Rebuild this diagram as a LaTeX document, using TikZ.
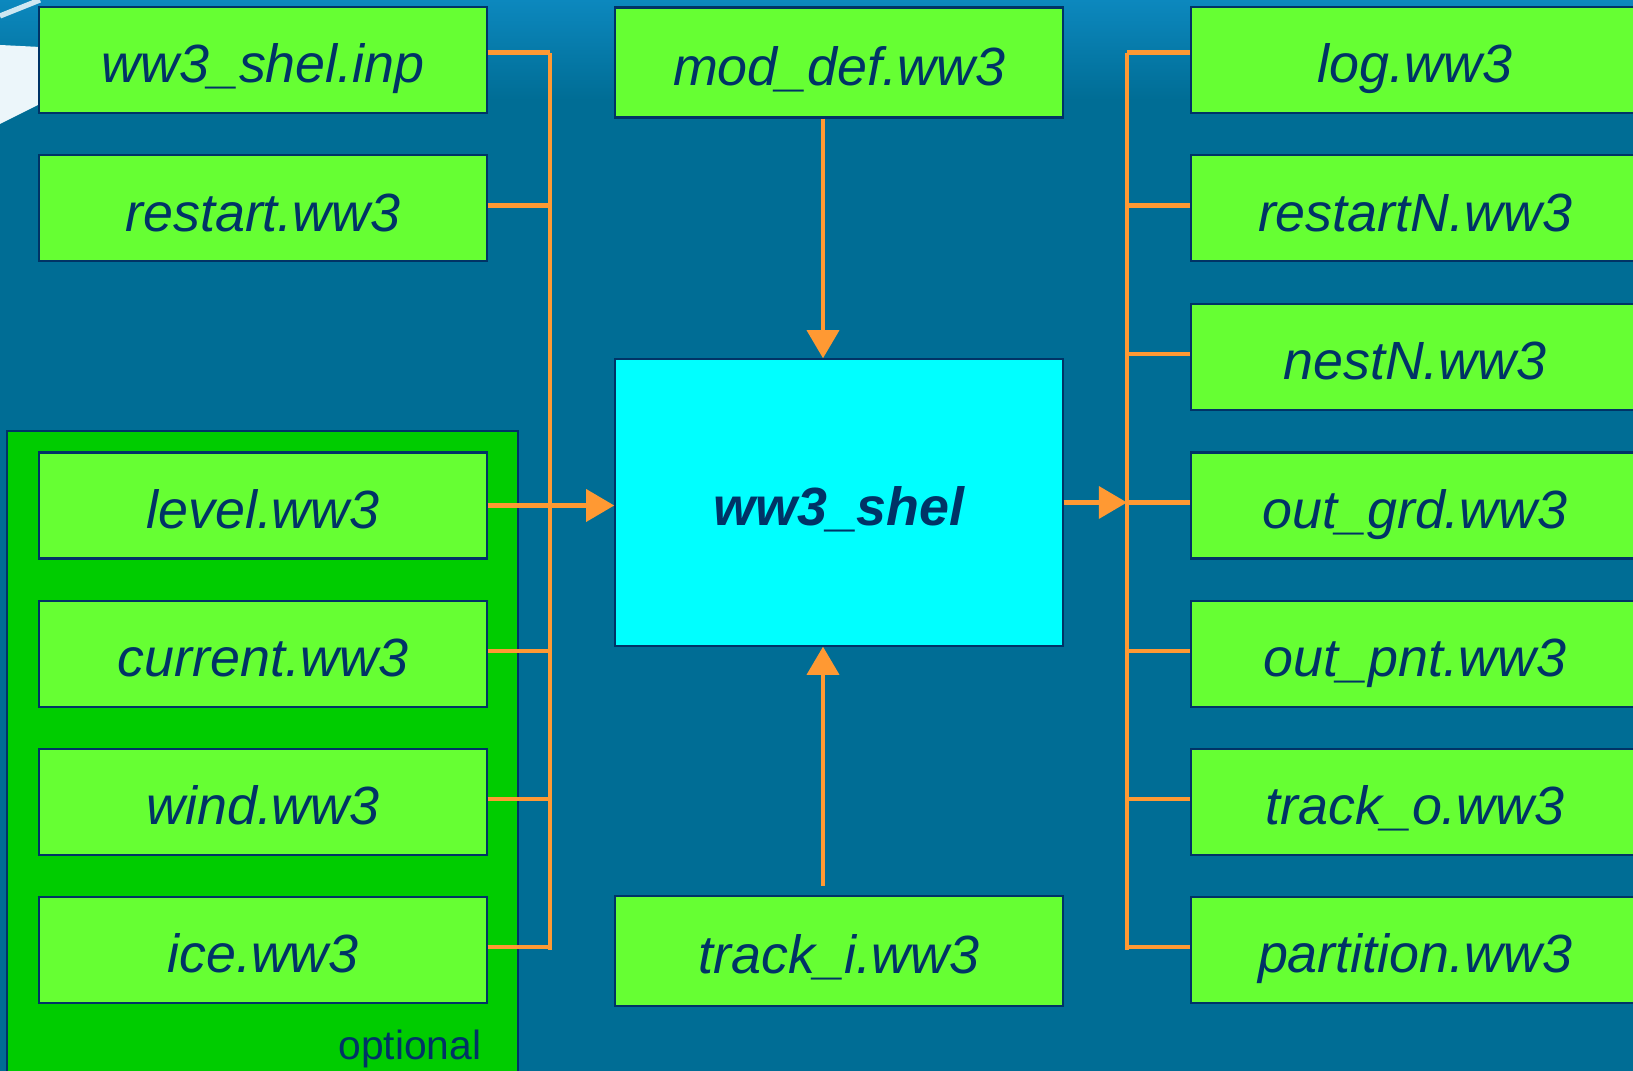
\documentclass[tikz,border=0pt]{standalone}
\usepackage{fontspec}
\setmainfont{Liberation Sans}
\usetikzlibrary{arrows.meta}

\definecolor{oceanblue}{RGB}{0,109,149}
\definecolor{skyblue}{RGB}{12,136,190}
\definecolor{filegreen}{RGB}{102,255,51}
\definecolor{optgreen}{RGB}{0,204,0}
\definecolor{shelcyan}{RGB}{0,255,255}
\definecolor{inknavy}{RGB}{0,51,102}
\definecolor{linkorange}{RGB}{255,153,51}

\begin{document}
\begin{tikzpicture}[x=0.01cm, y=-0.01cm,
    file/.style={draw=inknavy, line width=0.6pt, fill=filegreen, inner sep=0pt,
      minimum width=4.47cm, minimum height=1.06cm, text=inknavy,
      text height=13pt, text depth=0pt,
      font=\fontsize{15.3}{18}\selectfont\itshape},
    prog/.style={file, fill=shelcyan, minimum height=2.86cm,
      font=\fontsize{15.3}{18}\selectfont\bfseries\itshape},
    link/.style={linkorange, line width=1.35pt},
    feed/.style={link, -{Triangle[length=8pt, width=9pt]}}]
    \useasboundingbox (0,0) rectangle (1633,1071);

    % background
    \fill[oceanblue] (0,0) rectangle (1633,1071);
    \shade[top color=skyblue, bottom color=oceanblue] (0,0) rectangle (1633,100);
    \fill[white!92!skyblue] (0,45) -- (40,47) -- (40,104) -- (0,124) -- cycle;
    \draw[white!80!skyblue, line width=1.5pt] (0,16) -- (40,0);

    % optional inputs
    \draw[fill=optgreen, draw=inknavy, line width=0.6pt] (7,431) rectangle (518,1090);
    \node[text=inknavy, font=\fontsize{11.6}{14}\selectfont] (opt) at (410,1049) {optional};

    % inputs
    \node[file] (inp)     at (263,59.8)  {ww3\_shel.inp};
    \node[file] (restart) at (263,208.3) {restart.ww3};
    \node[file] (level)   at (263,505.5) {level.ww3};
    \node[file] (current) at (263,654)   {current.ww3};
    \node[file] (wind)    at (263,802)   {wind.ww3};
    \node[file] (ice)     at (263,950)   {ice.ww3};

    % program
    \node[file, minimum height=1.1cm] (moddef) at (839,62.5) {mod\_def.ww3};
    \node[prog] (shel) at (839,502.5) {ww3\_shel};
    \node[file, minimum height=1.1cm] (tracki) at (839,951) {track\_i.ww3};

    % outputs
    \node[file] (log)       at (1415,59.8)  {log.ww3};
    \node[file] (restartN)  at (1415,208.3) {restartN.ww3};
    \node[file] (nestN)     at (1415,357)   {nestN.ww3};
    \node[file] (outgrd)    at (1415,505.5) {out\_grd.ww3};
    \node[file] (outpnt)    at (1415,654)   {out\_pnt.ww3};
    \node[file] (tracko)    at (1415,802)   {track\_o.ww3};
    \node[file] (partition) at (1415,950)   {partition.ww3};

    \coordinate (lbus) at (550,0);
    \coordinate (rbus) at (1127,0);
    \coordinate (mid) at (823,0);

    % input bus
    \draw[link] ([yshift=0.07cm]inp.east -| lbus) -- (ice.east -| lbus);
    \draw[link] ([yshift=0.07cm]inp.east) -- ([yshift=0.07cm]inp.east -| lbus);
    \foreach \f in {restart,current,wind,ice}
        \draw[link] ([yshift=0.03cm]\f.east) -- ([yshift=0.03cm]\f.east -| lbus);
    \draw[feed] (level.east) -- (level.east -| shel.west);

    % output bus
    \draw[link] ([yshift=0.07cm]log.west -| rbus) -- (partition.west -| rbus);
    \draw[link] ([yshift=0.07cm]log.west -| rbus) -- ([yshift=0.07cm]log.west);
    \foreach \f in {restartN,nestN,outpnt,tracko,partition}
        \draw[link] ([yshift=0.03cm]\f.west -| rbus) -- ([yshift=0.03cm]\f.west);
    \draw[link] ([yshift=0.03cm]outgrd.west -| rbus) -- ([yshift=0.03cm]outgrd.west);
    \draw[feed] ([yshift=0.03cm]shel.east |- outgrd.west) -- ([yshift=0.03cm]outgrd.west -| rbus);

    \draw[feed] (moddef.south -| mid) -- (shel.north -| mid);
    \draw[feed] ([yshift=0.09cm]tracki.north -| mid) -- (shel.south -| mid);
\end{tikzpicture}
\end{document}
